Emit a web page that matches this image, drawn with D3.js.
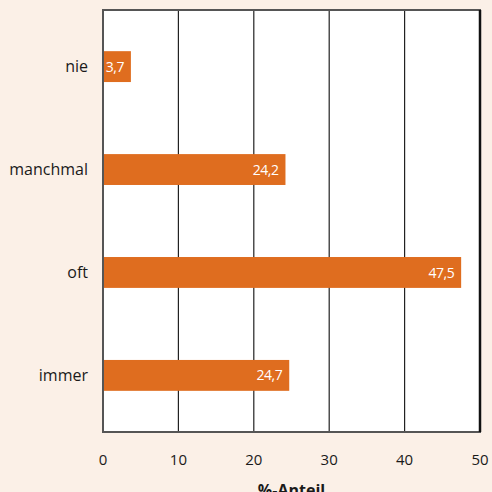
<!DOCTYPE html>
<html>
<head>
<meta charset="utf-8">
<script src="https://cdn.jsdelivr.net/npm/d3@7"></script>
<style>
  body { margin: 0; background: #fbf0e7; }
  text { font-family: "Open Sans", "Noto Sans", sans-serif; }
</style>
</head>
<body>
<script>
const categories = ["nie", "manchmal", "oft", "immer"];
const values = [3.7, 24.2, 47.5, 24.7];
const valueLabels = ["3,7", "24,2", "47,5", "24,7"];
const ticks = [0, 10, 20, 30, 40, 50];

const width = 492, height = 492;
const margin = { top: 10, right: 12, bottom: 60, left: 103 };

const svg = d3.select("body").append("svg")
  .attr("width", width)
  .attr("height", height);

const x = d3.scaleLinear()
  .domain([0, 50])
  .range([margin.left, width - margin.right]);

const y = d3.scaleBand()
  .domain(categories)
  .range([margin.top, height - margin.bottom])
  .paddingInner(0.7)
  .paddingOuter(0.4);

// plot background
svg.append("rect")
  .attr("x", x(0))
  .attr("y", margin.top)
  .attr("width", x(50) - x(0))
  .attr("height", height - margin.bottom - margin.top)
  .attr("fill", "#fff");

// grid lines
svg.append("g")
  .selectAll("line")
  .data(ticks.slice(1, -1))
  .enter()
  .append("line")
  .attr("x1", d => x(d))
  .attr("x2", d => x(d))
  .attr("y1", margin.top)
  .attr("y2", height - margin.bottom)
  .attr("stroke", "#222")
  .attr("stroke-width", 1.2);

// bars
svg.selectAll("rect.bar")
  .data(values)
  .enter()
  .append("rect")
  .attr("class", "bar")
  .attr("x", x(0))
  .attr("y", (d, i) => y(categories[i]))
  .attr("width", d => x(d) - x(0))
  .attr("height", y.bandwidth())
  .attr("fill", "#df6d1f");

// value labels
svg.selectAll("text.val")
  .data(values)
  .enter()
  .append("text")
  .attr("class", "val")
  .attr("x", d => x(d) - 7)
  .attr("y", (d, i) => y(categories[i]) + y.bandwidth() / 2)
  .attr("dy", "0.36em")
  .attr("text-anchor", "end")
  .attr("fill", "#fff")
  .attr("font-size", 14)
  .attr("letter-spacing", -0.5)
  .text((d, i) => valueLabels[i]);

// frame
svg.append("rect")
  .attr("x", x(0))
  .attr("y", margin.top)
  .attr("width", x(50) - x(0))
  .attr("height", height - margin.bottom - margin.top)
  .attr("fill", "none")
  .attr("stroke", "#555")
  .attr("stroke-width", 2);

svg.append("line")
  .attr("x1", x(50)).attr("x2", x(50))
  .attr("y1", margin.top).attr("y2", height - margin.bottom)
  .attr("stroke", "#111")
  .attr("stroke-width", 2.5);

// category labels
svg.selectAll("text.cat")
  .data(categories)
  .enter()
  .append("text")
  .attr("class", "cat")
  .attr("x", margin.left - 15)
  .attr("y", d => y(d) + y.bandwidth() / 2)
  .attr("dy", "0.36em")
  .attr("text-anchor", "end")
  .attr("fill", "#1a1a1a")
  .attr("font-size", 16)
  .text(d => d);

// x tick labels
svg.selectAll("text.tick")
  .data(ticks)
  .enter()
  .append("text")
  .attr("class", "tick")
  .attr("x", d => x(d))
  .attr("y", 465)
  .attr("text-anchor", "middle")
  .attr("fill", "#1a1a1a")
  .attr("font-size", 15)
  .text(d => d);

// axis title (cut off at the bottom edge, as in the original)
svg.append("text")
  .attr("x", (x(0) + x(50)) / 2)
  .attr("y", 496)
  .attr("text-anchor", "middle")
  .attr("fill", "#1a1a1a")
  .attr("font-size", 16)
  .attr("font-weight", "bold")
  .text("%-Anteil");
</script>
</body>
</html>
